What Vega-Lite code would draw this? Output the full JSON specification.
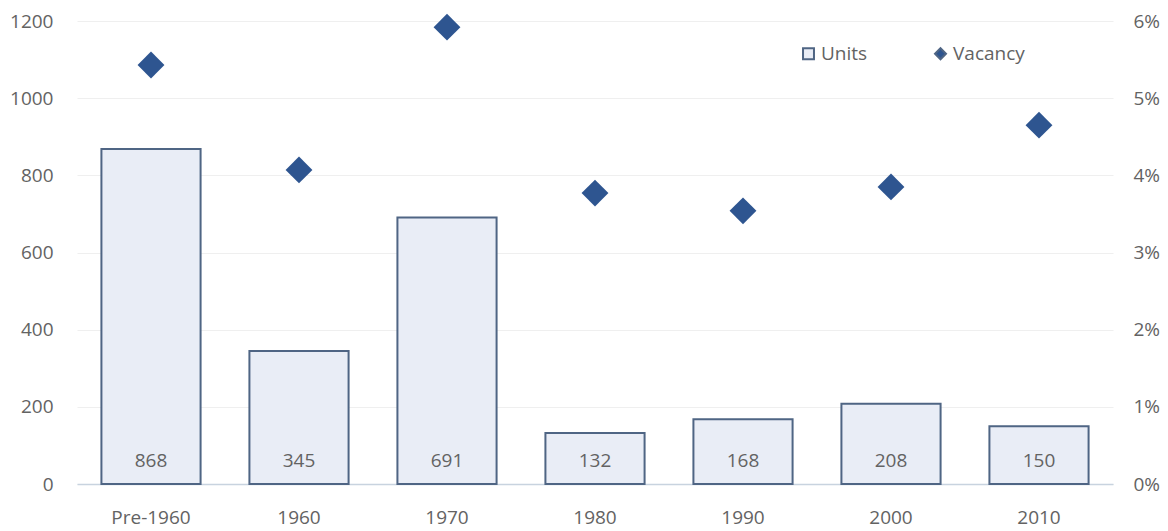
{
  "$schema": "https://vega.github.io/schema/vega-lite/v6.json",
  "autosize": "none",
  "width": 1036,
  "height": 463,
  "padding": {"left": 77, "top": 21, "right": 55, "bottom": 47},
  "background": "white",
  "config": {
    "view": {"stroke": null},
    "font": "Open Sans",
    "axis": {"labelFont": "Open Sans", "labelFontSize": 19, "labelColor": "#636363", "ticks": false, "domain": false}
  },
  "data": {"values": [
    {"period": "Pre-1960", "units": 868, "vacancy": 0.0543},
    {"period": "1960", "units": 345, "vacancy": 0.0407},
    {"period": "1970", "units": 691, "vacancy": 0.0592},
    {"period": "1980", "units": 132, "vacancy": 0.0377},
    {"period": "1990", "units": 168, "vacancy": 0.0354},
    {"period": "2000", "units": 208, "vacancy": 0.0385},
    {"period": "2010", "units": 150, "vacancy": 0.0465}
  ]},
  "encoding": {
    "x": {"field": "period", "type": "nominal", "sort": null,
      "scale": {"paddingInner": 0.33, "paddingOuter": 0.165},
      "axis": {"title": null, "labelAngle": 0, "labelPadding": 24, "domain": true, "domainColor": "#c8d3df", "domainWidth": 1.5}}
  },
  "layer": [
    {
      "layer": [
        {
          "mark": {"type": "bar", "stroke": "#4f6584", "strokeWidth": 2},
          "encoding": {
            "y": {"field": "units", "type": "quantitative",
              "scale": {"domain": [0, 1200]},
              "axis": {"title": null, "orient": "left", "format": "d", "values": [0,200,400,600,800,1000,1200], "labelPadding": 24, "grid": true, "gridColor": "#efefef", "gridWidth": 1}},
            "fill": {"datum": "Units", "type": "nominal",
              "scale": {"domain": ["Units", "Vacancy"], "range": ["#e9edf6", "#2e5590"]},
              "legend": {"title": null, "orient": "none", "legendX": 722, "legendY": 23, "direction": "horizontal",
                "labelFontSize": 19, "labelFont": "Open Sans", "labelColor": "#636363", "columnPadding": 63, "symbolSize": 120, "labelOffset": 3,
                "symbolStrokeWidth": 2,
                "encode": {"symbols": {"update": {
                  "stroke": {"signal": "datum.value === 'Units' ? '#3f63a0' : '#2e5590'"}
                }}}}}
          }
        },
        {
          "mark": {"type": "text", "fontSize": 19, "color": "#636363", "dy": -23, "font": "Open Sans"},
          "encoding": {
            "y": {"datum": 0, "type": "quantitative"},
            "text": {"field": "units", "type": "quantitative"}
          }
        }
      ]
    },
    {
      "mark": {"type": "point", "filled": true, "size": 720, "color": "#2e5590", "opacity": 1},
      "encoding": {
        "y": {"field": "vacancy", "type": "quantitative",
          "scale": {"domain": [0, 0.06]},
          "axis": {"title": null, "orient": "right", "format": ".0%", "values": [0,0.01,0.02,0.03,0.04,0.05,0.06], "labelPadding": 20, "grid": false}},
        "fill": {"datum": "Vacancy", "type": "nominal"},
        "shape": {"datum": "Vacancy", "type": "nominal",
          "scale": {"domain": ["Units", "Vacancy"], "range": ["square", "diamond"]},
          "legend": null}
      }
    }
  ],
  "resolve": {"scale": {"y": "independent"}}
}
